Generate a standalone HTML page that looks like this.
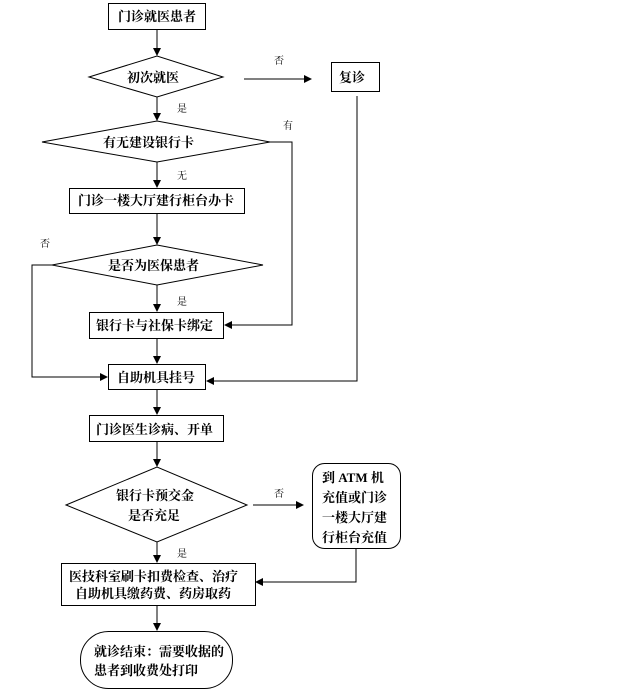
<!DOCTYPE html>
<html><head><meta charset="utf-8"><style>
body{margin:0;background:#fff}
svg text{font-family:"Liberation Serif","Noto Serif CJK SC","Noto Sans CJK SC",serif;font-weight:bold;font-size:13px;fill:#000}
.s{font-size:10px;font-weight:normal}
</style></head><body>
<svg width="640" height="693" viewBox="0 0 640 693" xmlns="http://www.w3.org/2000/svg">
<defs><marker id="a" markerWidth="8" markerHeight="8" refX="7" refY="4" orient="auto" markerUnits="userSpaceOnUse"><path d="M0,0 L8,4 L0,8z" fill="#000"/></marker></defs>
<g fill="none" stroke="#000" stroke-width="1">
<rect x="108.5" y="3.5" width="97" height="26"/>
<polygon points="89,77 157,56 223,77 157,97"/>
<rect x="331.5" y="62.5" width="48" height="29"/>
<polygon points="42,142 157,121 270,142 157,162"/>
<rect x="69.5" y="188.5" width="175" height="25"/>
<polygon points="52,265 157,245 263,265 157,285"/>
<rect x="89.5" y="312.5" width="134" height="26"/>
<rect x="108.5" y="364.5" width="97" height="25"/>
<rect x="89.5" y="415.5" width="134" height="26"/>
<polygon points="66,505 157,467 247,505 157,542"/>
<rect x="312.5" y="463.5" width="88" height="85" rx="12"/>
<rect x="61.5" y="563.5" width="194" height="42"/>
<rect x="80.5" y="631.5" width="152" height="57" rx="28"/>
<g marker-end="url(#a)">
<line x1="157" y1="29" x2="157" y2="55"/>
<line x1="244" y1="79" x2="311" y2="79"/>
<polyline points="357,96 357,381 207,381"/>
<line x1="157" y1="97" x2="157" y2="120"/>
<polyline points="270,142 292,142 292,325 225,325"/>
<line x1="157" y1="162" x2="157" y2="187"/>
<line x1="157" y1="213" x2="157" y2="244"/>
<polyline points="52,265 32,265 32,377 107,377"/>
<line x1="157" y1="285" x2="157" y2="311"/>
<line x1="157" y1="338" x2="157" y2="363"/>
<line x1="157" y1="389" x2="157" y2="414"/>
<line x1="157" y1="441" x2="157" y2="466"/>
<line x1="253" y1="505" x2="303" y2="505"/>
<polyline points="356,548 356,582 256,582"/>
<line x1="157" y1="542" x2="157" y2="562"/>
<line x1="157" y1="605" x2="157" y2="630"/>
</g></g>
<text x="118" y="21">门诊就医患者</text>
<text x="127" y="82">初次就医</text>
<text x="339" y="82">复诊</text>
<text x="103" y="147">有无建设银行卡</text>
<text x="78" y="205">门诊一楼大厅建行柜台办卡</text>
<text x="108" y="270">是否为医保患者</text>
<text x="96" y="330">银行卡与社保卡绑定</text>
<text x="117" y="382">自助机具挂号</text>
<text x="96" y="434">门诊医生诊病、开单</text>
<text x="116" y="500">银行卡预交金</text>
<text x="128" y="520">是否充足</text>
<text x="322" y="482">到 ATM 机</text>
<text x="322" y="502">充值或门诊</text>
<text x="322" y="522">一楼大厅建</text>
<text x="322" y="542">行柜台充值</text>
<text x="69" y="581">医技科室刷卡扣费检查、治疗</text>
<text x="75" y="598">自助机具缴药费、药房取药</text>
<text x="94" y="656">就诊结束：需要收据的</text>
<text x="94" y="675">患者到收费处打印</text>
<text class="s" x="274" y="64">否</text>
<text class="s" x="177" y="112">是</text>
<text class="s" x="283" y="129">有</text>
<text class="s" x="177" y="179">无</text>
<text class="s" x="40" y="247">否</text>
<text class="s" x="177" y="305">是</text>
<text class="s" x="274" y="497">否</text>
<text class="s" x="177" y="557">是</text>
</svg>
</body></html>
